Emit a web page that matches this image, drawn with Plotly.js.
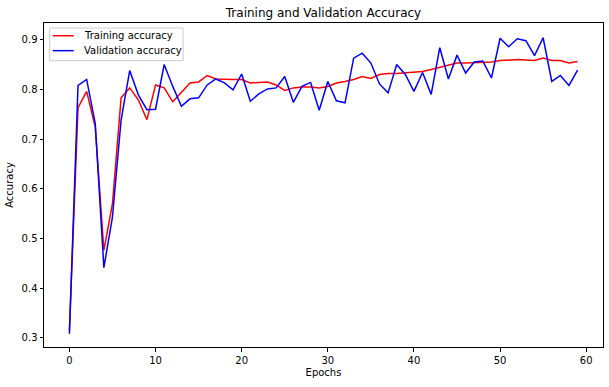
<!DOCTYPE html>
<html>
<head>
<meta charset="utf-8">
<script src="https://cdn.plot.ly/plotly-3.0.1.min.js"></script>
<style>
html,body{margin:0;padding:0;background:#fff;}
#chart{width:609px;height:387px;}
</style>
</head>
<body>
<div id="chart"></div>
<script>
const epochs = Array.from({length: 60}, (_, i) => i);
const trainingAccuracy = [0.315, 0.763, 0.796, 0.724, 0.476, 0.570, 0.783, 0.803, 0.779, 0.739,
  0.809, 0.803, 0.775, 0.793, 0.813, 0.815, 0.828, 0.821, 0.820, 0.820,
  0.820, 0.813, 0.814, 0.815, 0.809, 0.798, 0.803, 0.805, 0.805, 0.803,
  0.806, 0.813, 0.816, 0.820, 0.826, 0.822, 0.830, 0.832, 0.832, 0.833,
  0.834, 0.836, 0.840, 0.844, 0.848, 0.853, 0.853, 0.854, 0.854, 0.855,
  0.858, 0.859, 0.860, 0.859, 0.858, 0.863, 0.858, 0.858, 0.853, 0.856];
const validationAccuracy = [0.308, 0.808, 0.820, 0.731, 0.441, 0.543, 0.738, 0.838, 0.789, 0.759,
  0.760, 0.850, 0.806, 0.766, 0.781, 0.783, 0.809, 0.821, 0.813, 0.799,
  0.831, 0.776, 0.791, 0.801, 0.803, 0.826, 0.774, 0.806, 0.814, 0.758,
  0.816, 0.777, 0.773, 0.863, 0.873, 0.853, 0.811, 0.793, 0.850, 0.830,
  0.796, 0.834, 0.790, 0.884, 0.821, 0.869, 0.833, 0.855, 0.857, 0.823,
  0.903, 0.886, 0.902, 0.898, 0.868, 0.904, 0.816, 0.828, 0.808, 0.839];
const seriesNames = ['Training accuracy', 'Validation accuracy'];
const seriesColors = ['#ff0000', '#0000ff'];
const xTicks = [0, 10, 20, 30, 40, 50, 60];
const yTicks = [0.3, 0.4, 0.5, 0.6, 0.7, 0.8, 0.9];

const font = {family: 'DejaVu Sans, sans-serif', size: 10, color: '#000'};

const traces = [
  {x: epochs, y: trainingAccuracy, name: seriesNames[0], type: 'scatter', mode: 'lines',
   line: {color: seriesColors[0], width: 1.5}},
  {x: epochs, y: validationAccuracy, name: seriesNames[1], type: 'scatter', mode: 'lines',
   line: {color: seriesColors[1], width: 1.5}}
];

const axisCommon = {
  showline: true, mirror: true, linecolor: '#000', linewidth: 1,
  ticks: 'outside', ticklen: 3.5, tickwidth: 1, tickcolor: '#000',
  showgrid: false, zeroline: false, tickfont: font
};

// matplotlib-style legend box (drawn in paper coordinates of the plot area)
const legendBox = {x0: 0.0102, x1: 0.2487, y0: 0.8837, y1: 0.9846};
const legendRows = [0.9608, 0.9146];
const shapes = [
  {type: 'rect', xref: 'paper', yref: 'paper', x0: legendBox.x0, x1: legendBox.x1,
   y0: legendBox.y0, y1: legendBox.y1, line: {color: '#cccccc', width: 1},
   fillcolor: 'rgba(255,255,255,0.8)', layer: 'above'}
];
const annotations = [];
seriesNames.forEach((name, i) => {
  shapes.push({type: 'line', xref: 'paper', yref: 'paper', x0: 0.0156, x1: 0.0531,
    y0: legendRows[i], y1: legendRows[i], line: {color: seriesColors[i], width: 1.5}, layer: 'above'});
  annotations.push({xref: 'paper', yref: 'paper', x: 0.068, y: legendRows[i], text: name,
    showarrow: false, xanchor: 'left', yanchor: 'middle', font: font});
});

const layout = {
  width: 609, height: 387,
  margin: {l: 44, r: 6, t: 23, b: 40, pad: 0},
  paper_bgcolor: '#fff', plot_bgcolor: '#fff',
  font: font,
  title: {text: 'Training and Validation Accuracy', font: {family: 'DejaVu Sans, sans-serif', size: 12, color: '#000'},
          x: 0.5312, xanchor: 'center', y: 1 - 13/387, yanchor: 'middle', xref: 'container', yref: 'container'},
  xaxis: Object.assign({}, axisCommon, {
    range: [-2.95, 61.95], tickvals: xTicks, ticktext: xTicks.map(String),
    title: {text: 'Epochs', font: font, standoff: 4}
  }),
  yaxis: Object.assign({}, axisCommon, {
    range: [0.2812, 0.9337], tickvals: yTicks, ticktext: yTicks.map(v => v.toFixed(1)),
    title: {text: 'Accuracy', font: font, standoff: 6}
  }),
  showlegend: false,
  shapes: shapes,
  annotations: annotations
};

Plotly.newPlot('chart', traces, layout, {displayModeBar: false, staticPlot: true});
</script>
</body>
</html>
